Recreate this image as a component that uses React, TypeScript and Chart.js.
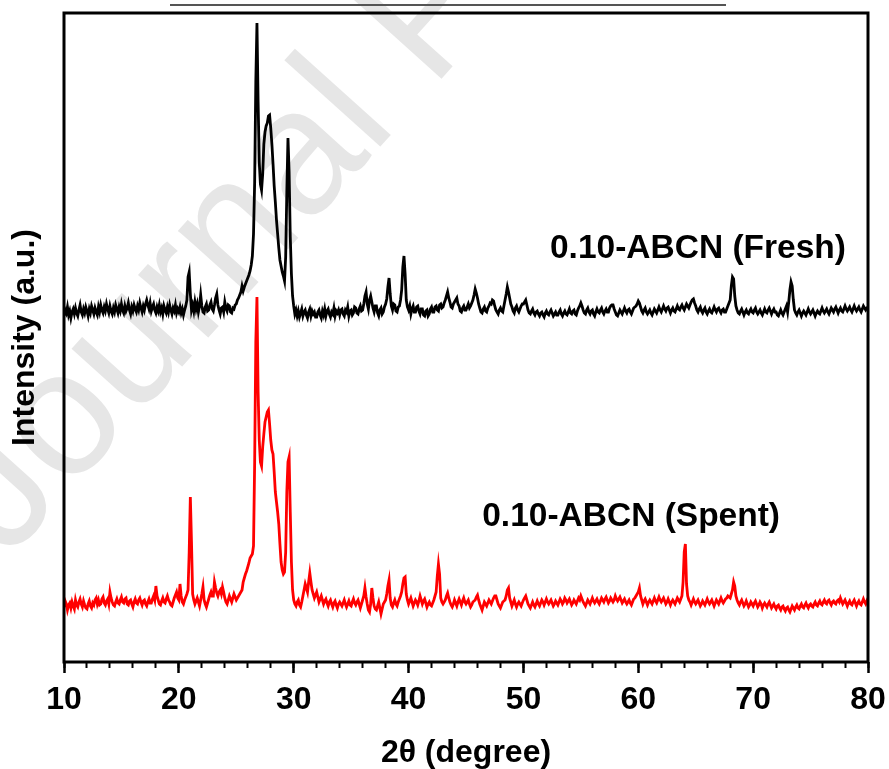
import React, { useEffect, useRef } from 'react';
import { Chart, registerables } from 'chart.js';

Chart.register(...registerables);

const FONT = '"Liberation Sans", Arial, Helvetica, sans-serif';

// Series names (drawn as in-plot labels)
const seriesNames = ['0.10-ABCN (Fresh)', '0.10-ABCN (Spent)'];
const xTitle = '2θ (degree)';
const yTitle = 'Intensity (a.u.)';

// Label anchors in data units (right end x, baseline y)
const labelAnchorX = [78.08, 72.34];
const labelAnchorY = [404, 136];

// Diffractometer scan grid: 2θ from 10.0° to 80.0° in 0.1° steps
const scanStart = 10;
const scanStep = 0.1;

// ---------- Fresh sample intensities (a.u.), one row per degree ----------
const freshLow: number[] = [
  346, 352, 349, 355, 347, 351, 344, 350, 353, 348, // 10
  354, 349, 346, 352, 357, 350, 347, 353, 349, 355, // 11
  351, 346, 353, 349, 356, 352, 348, 354, 350, 347, // 12
  355, 350, 357, 352, 349, 355, 351, 358, 353, 349, // 13
  356, 351, 348, 354, 350, 357, 353, 349, 355, 351, // 14
  358, 352, 349, 356, 351, 354, 359, 352, 348, 355, // 15
  351, 357, 353, 350, 356, 352, 359, 354, 350, 356, // 16
  352, 358, 362, 357, 353, 359, 351, 355, 358, 352, // 17
  349, 355, 351, 357, 350, 354, 348, 356, 352, 349, // 18
  355, 350, 357, 352, 348, 354, 351, 357, 349, 353, // 19
  350, 355, 349, 353, 347, 352, 356, 362, 385, 390, // 20
  368, 352, 357, 351, 360, 353, 358, 350, 356, 367, // 21
  356, 350, 349, 355, 358, 351, 352, 357, 360, 353, // 22
  351, 357, 364, 368, 357, 352, 348, 354, 355, 350, // 23
  360, 354, 351, 357, 356, 350, 349, 354, 353, 357, // 24
];
const freshPeak: number[] = [
  358, 362, 364, 367, 370, 376, 371, 375, 378, 381, // 25
  384, 387, 391, 397, 406, 428, 480, 580, 639, 560, // 26
  500, 478, 472, 488, 518, 530, 536, 539, 546, 547, // 27
  534, 518, 498, 476, 460, 442, 428, 414, 402, 396, // 28
  390, 386, 381, 405, 470, 524, 490, 425, 388, 366, // 29
];
const freshHigh: number[] = [
  356, 348, 352, 346, 351, 345, 349, 353, 346, 350, // 30
  352, 347, 344, 350, 353, 346, 351, 348, 350, 345, // 31
  345, 350, 352, 347, 344, 351, 347, 353, 346, 351, // 32
  353, 348, 345, 350, 348, 354, 346, 351, 349, 352, // 33
  347, 352, 353, 348, 346, 352, 350, 355, 346, 351, // 34
  352, 347, 349, 355, 354, 349, 348, 353, 356, 351, // 35
  352, 358, 366, 370, 358, 353, 362, 366, 360, 354, // 36
  350, 356, 356, 349, 346, 352, 354, 348, 350, 355, // 37
  358, 363, 375, 384, 368, 356, 352, 358, 357, 351, // 38
  350, 355, 356, 362, 372, 395, 406, 388, 362, 355, // 39
  352, 356, 348, 353, 356, 350, 350, 355, 356, 351, // 40
  348, 353, 353, 347, 346, 351, 352, 346, 348, 353, // 41
  355, 350, 350, 355, 356, 352, 351, 357, 358, 354, // 42
  355, 359, 362, 366, 370, 364, 360, 355, 354, 358, // 43
  360, 362, 364, 358, 356, 351, 350, 354, 356, 352, // 44
  352, 355, 358, 354, 356, 359, 362, 367, 373, 369, // 45
  364, 358, 354, 350, 349, 353, 355, 351, 350, 354, // 46
  356, 359, 358, 362, 361, 356, 352, 350, 348, 352, // 47
  354, 351, 350, 356, 362, 368, 375, 370, 364, 358, // 48
  355, 351, 349, 354, 356, 352, 350, 353, 356, 358, // 49
  358, 360, 362, 357, 352, 349, 348, 351, 353, 349, // 50
  347, 350, 351, 348, 346, 349, 350, 347, 345, 349, // 51
  351, 348, 347, 350, 352, 349, 346, 348, 350, 347, // 52
  347, 350, 352, 348, 346, 349, 351, 348, 347, 350, // 53
  353, 349, 348, 351, 352, 348, 347, 351, 354, 356, // 54
  359, 356, 352, 349, 348, 352, 354, 350, 348, 351, // 55
  352, 348, 346, 350, 353, 350, 349, 352, 354, 350, // 56
  348, 351, 353, 350, 350, 354, 356, 357, 357, 353, // 57
  350, 347, 346, 349, 352, 350, 348, 351, 354, 351, // 58
  349, 352, 353, 350, 348, 351, 354, 355, 356, 358, // 59
  361, 359, 355, 351, 349, 352, 354, 350, 348, 350, // 60
  352, 349, 347, 350, 353, 351, 349, 352, 355, 352, // 61
  350, 353, 356, 353, 351, 354, 355, 352, 349, 352, // 62
  354, 351, 350, 353, 356, 353, 352, 355, 357, 354, // 63
  352, 355, 358, 356, 354, 357, 360, 362, 363, 359, // 64
  356, 352, 350, 353, 355, 351, 349, 352, 354, 350, // 65
  348, 351, 353, 350, 349, 352, 355, 352, 350, 353, // 66
  354, 351, 349, 352, 353, 350, 350, 353, 356, 359, // 67
  362, 376, 385, 383, 366, 356, 352, 349, 348, 351, // 68
  353, 350, 347, 350, 352, 349, 348, 351, 353, 350, // 69
  349, 352, 354, 350, 348, 350, 352, 349, 347, 350, // 70
  353, 350, 349, 352, 354, 351, 348, 351, 353, 350, // 71
  350, 347, 346, 349, 352, 349, 347, 350, 353, 356, // 72
  350, 360, 372, 380, 376, 362, 352, 349, 347, 350, // 73
  352, 349, 346, 349, 351, 349, 347, 350, 353, 350, // 74
  348, 350, 352, 349, 346, 349, 351, 349, 348, 351, // 75
  354, 351, 349, 351, 353, 350, 348, 351, 354, 352, // 76
  350, 353, 355, 352, 349, 352, 354, 351, 350, 353, // 77
  356, 353, 351, 353, 355, 352, 350, 353, 356, 353, // 78
  351, 353, 355, 352, 350, 353, 356, 354, 352, 354, // 79
  355, // 80
];

// ---------- Spent sample intensities (a.u.), one row per degree ----------
const spentLow: number[] = [
  55, 61, 58, 52, 57, 59, 54, 60, 56, 53, // 10
  62, 57, 55, 60, 63, 58, 55, 61, 57, 54, // 11
  53, 58, 61, 56, 54, 59, 57, 62, 64, 58, // 12
  62, 57, 58, 63, 65, 59, 57, 61, 63, 58, // 13
  70, 64, 60, 57, 56, 60, 63, 59, 58, 62, // 14
  65, 60, 59, 63, 64, 58, 57, 61, 62, 58, // 15
  55, 60, 63, 59, 58, 62, 64, 60, 57, 61, // 16
  62, 58, 56, 60, 63, 59, 59, 63, 66, 62, // 17
  76, 66, 62, 58, 57, 61, 64, 60, 59, 63, // 18
  66, 62, 60, 57, 56, 60, 64, 67, 70, 64, // 19
  62, 78, 66, 60, 58, 62, 65, 68, 72, 110, // 20
  165, 120, 68, 62, 58, 61, 64, 60, 56, 62, // 21
  68, 75, 62, 58, 55, 59, 63, 67, 70, 66, // 22
  66, 80, 74, 69, 66, 70, 72, 68, 75, 70, // 23
  64, 60, 58, 62, 66, 63, 60, 64, 68, 65, // 24
];
const spentPeak: number[] = [
  62, 64, 66, 68, 70, 72, 80, 84, 88, 91, // 25
  95, 99, 104, 106, 108, 116, 200, 320, 365, 270, // 26
  222, 200, 196, 215, 228, 240, 245, 250, 252, 238, // 27
  222, 212, 208, 190, 170, 160, 150, 138, 118, 100, // 28
  92, 88, 90, 110, 170, 200, 205, 150, 100, 72, // 29
];
const spentHigh: number[] = [
  62, 58, 56, 60, 62, 57, 55, 60, 66, 72, // 30
  78, 74, 70, 80, 89, 80, 72, 68, 64, 67, // 31
  70, 65, 60, 63, 66, 62, 58, 61, 63, 59, // 32
  56, 60, 62, 58, 55, 59, 61, 57, 54, 58, // 33
  60, 58, 56, 59, 62, 58, 55, 58, 61, 57, // 34
  56, 60, 63, 59, 57, 60, 62, 58, 54, 58, // 35
  62, 66, 74, 65, 58, 52, 50, 58, 74, 64, // 36
  56, 53, 52, 56, 60, 54, 48, 53, 58, 60, // 37
  62, 68, 76, 82, 64, 57, 55, 59, 62, 58, // 38
  56, 60, 63, 66, 70, 78, 84, 85, 68, 62, // 39
  58, 61, 64, 60, 56, 59, 62, 60, 57, 61, // 40
  66, 62, 58, 61, 63, 59, 55, 58, 60, 57, // 41
  56, 59, 62, 66, 70, 86, 98, 88, 64, 60, // 42
  58, 60, 62, 66, 69, 64, 60, 57, 55, 58, // 43
  62, 59, 56, 60, 63, 60, 57, 61, 64, 60, // 44
  58, 60, 62, 58, 55, 57, 60, 61, 62, 65, // 45
  67, 62, 58, 55, 52, 56, 60, 58, 56, 59, // 46
  62, 60, 58, 61, 64, 66, 66, 62, 58, 56, // 47
  54, 57, 60, 61, 62, 66, 72, 74, 64, 60, // 48
  56, 59, 62, 58, 55, 58, 60, 58, 56, 59, // 49
  62, 64, 66, 62, 58, 56, 54, 57, 60, 57, // 50
  55, 58, 61, 58, 56, 59, 62, 60, 57, 60, // 51
  63, 60, 58, 60, 62, 59, 56, 58, 61, 59, // 52
  57, 60, 63, 61, 58, 60, 64, 62, 59, 61, // 53
  63, 60, 57, 59, 62, 60, 58, 61, 64, 62, // 54
  66, 63, 60, 58, 56, 59, 62, 60, 58, 61, // 55
  64, 61, 59, 61, 63, 60, 58, 61, 64, 62, // 56
  60, 63, 65, 62, 59, 61, 64, 62, 60, 62, // 57
  66, 63, 61, 63, 65, 62, 59, 61, 63, 60, // 58
  58, 60, 62, 59, 57, 60, 63, 64, 66, 68, // 59
  70, 74, 66, 62, 58, 61, 63, 60, 57, 60, // 60
  62, 60, 58, 61, 64, 61, 59, 62, 65, 62, // 61
  60, 62, 64, 61, 58, 60, 63, 60, 57, 60, // 62
  62, 60, 58, 61, 64, 62, 60, 63, 66, 80, // 63
  110, 118, 78, 66, 62, 60, 57, 60, 63, 60, // 64
  58, 60, 62, 59, 56, 58, 61, 59, 57, 60, // 65
  63, 60, 58, 60, 62, 59, 56, 59, 62, 60, // 66
  58, 61, 64, 61, 59, 61, 63, 64, 66, 65, // 67
  64, 68, 72, 80, 76, 66, 62, 59, 57, 60, // 68
  62, 59, 56, 58, 61, 58, 55, 57, 60, 58, // 69
  56, 59, 61, 58, 55, 57, 60, 58, 54, 57, // 70
  59, 57, 55, 58, 60, 57, 54, 56, 58, 55, // 71
  53, 56, 57, 54, 52, 55, 56, 53, 51, 54, // 72
  55, 52, 50, 53, 56, 54, 52, 55, 57, 54, // 73
  53, 56, 58, 55, 54, 57, 59, 56, 54, 57, // 74
  58, 56, 55, 58, 60, 57, 56, 59, 61, 58, // 75
  57, 60, 62, 59, 58, 61, 62, 59, 57, 60, // 76
  61, 59, 58, 61, 62, 60, 64, 61, 58, 60, // 77
  62, 59, 56, 59, 61, 58, 57, 60, 62, 59, // 78
  56, 59, 61, 58, 57, 60, 63, 60, 58, 61, // 79
  64, // 80
];

const toPts = (...parts: number[][]) =>
  parts.flat().map((y, i) => ({ x: Math.round((scanStart + i * scanStep) * 100) / 100, y }));

const decorPlugin = {
  id: 'decor',
  beforeDraw(chart: any) {
    const ctx = chart.ctx as CanvasRenderingContext2D;
    ctx.save();
    // journal watermark
    ctx.translate(8, 560);
    ctx.rotate((-48 * Math.PI) / 180);
    ctx.font = `178px ${FONT}`;
    ctx.fillStyle = '#e6e6e6';
    ctx.textBaseline = 'alphabetic';
    ctx.fillText('Journal Pre-proof', 0, 0);
    ctx.restore();
    // header rule
    ctx.save();
    ctx.strokeStyle = '#555555';
    ctx.lineWidth = 2;
    ctx.beginPath();
    ctx.moveTo(170, 5);
    ctx.lineTo(726, 5);
    ctx.stroke();
    ctx.restore();
  },
  afterDatasetsDraw(chart: any) {
    const ctx = chart.ctx as CanvasRenderingContext2D;
    const a = chart.chartArea;
    const { x, y } = chart.scales;
    ctx.save();
    ctx.strokeStyle = '#000';
    ctx.lineWidth = 3;
    ctx.strokeRect(a.left, a.top, a.right - a.left, a.bottom - a.top);
    ctx.font = `bold 33.5px ${FONT}`;
    ctx.fillStyle = '#000';
    ctx.textAlign = 'right';
    ctx.textBaseline = 'alphabetic';
    seriesNames.forEach((name, i) => {
      ctx.fillText(name, x.getPixelForValue(labelAnchorX[i]), y.getPixelForValue(labelAnchorY[i]));
    });
    ctx.restore();
  },
};

const noSidePad = (s: any, h: number) => {
  s.height = h;
  s.paddingLeft = 0;
  s.paddingRight = 0;
};

export default function App() {
  const ref = useRef<HTMLCanvasElement>(null);
  useEffect(() => {
    if (!ref.current) return;
    const chart = new Chart(ref.current, {
      type: 'line',
      data: {
        datasets: [
          {
            label: seriesNames[0],
            data: toPts(freshLow, freshPeak, freshHigh),
            borderColor: '#000000',
            borderWidth: 2.8,
            pointRadius: 0,
            fill: false,
            tension: 0,
          },
          {
            label: seriesNames[1],
            data: toPts(spentLow, spentPeak, spentHigh),
            borderColor: '#ff0000',
            borderWidth: 2.8,
            pointRadius: 0,
            fill: false,
            tension: 0,
          },
        ],
      },
      options: {
        animation: false,
        responsive: true,
        maintainAspectRatio: false,
        layout: { padding: { top: 13, right: 21, left: 0, bottom: 0 } },
        plugins: { legend: { display: false }, tooltip: { enabled: false } },
        scales: {
          xMinor: {
            type: 'linear',
            position: 'bottom',
            weight: 0,
            min: 10,
            max: 80,
            ticks: { stepSize: 2, display: false },
            grid: { drawOnChartArea: false, drawTicks: true, tickLength: 6, tickWidth: 2, tickColor: '#000' },
            border: { display: false },
            afterFit: (s: any) => noSidePad(s, 0),
          },
          x: {
            type: 'linear',
            position: 'bottom',
            weight: 1,
            min: 10,
            max: 80,
            ticks: { stepSize: 10, padding: 8, color: '#000', font: { family: FONT, size: 32, weight: 'bold' } },
            grid: { drawOnChartArea: false, drawTicks: true, tickLength: 11, tickWidth: 2.5, tickColor: '#000' },
            border: { display: false },
            title: {
              display: true,
              text: xTitle,
              color: '#000',
              font: { family: FONT, size: 32, weight: 'bold', lineHeight: 1 },
              padding: 0,
            },
            afterFit: (s: any) => noSidePad(s, 107),
          },
          y: {
            type: 'linear',
            position: 'left',
            min: 0,
            max: 649,
            ticks: { display: false },
            grid: { display: false },
            border: { display: false },
            title: {
              display: true,
              text: yTitle,
              color: '#000',
              font: { family: FONT, size: 32, weight: 'bold', lineHeight: 1 },
              padding: { top: 9, bottom: 0 },
            },
            afterFit: (s: any) => { s.width = 64; },
          },
        },
      } as any,
      plugins: [decorPlugin],
    });
    return () => chart.destroy();
  }, []);
  return (
    <div style={{ position: 'fixed', left: 0, top: 0, width: 889, height: 769, background: '#fff' }}>
      <canvas ref={ref} />
    </div>
  );
}
